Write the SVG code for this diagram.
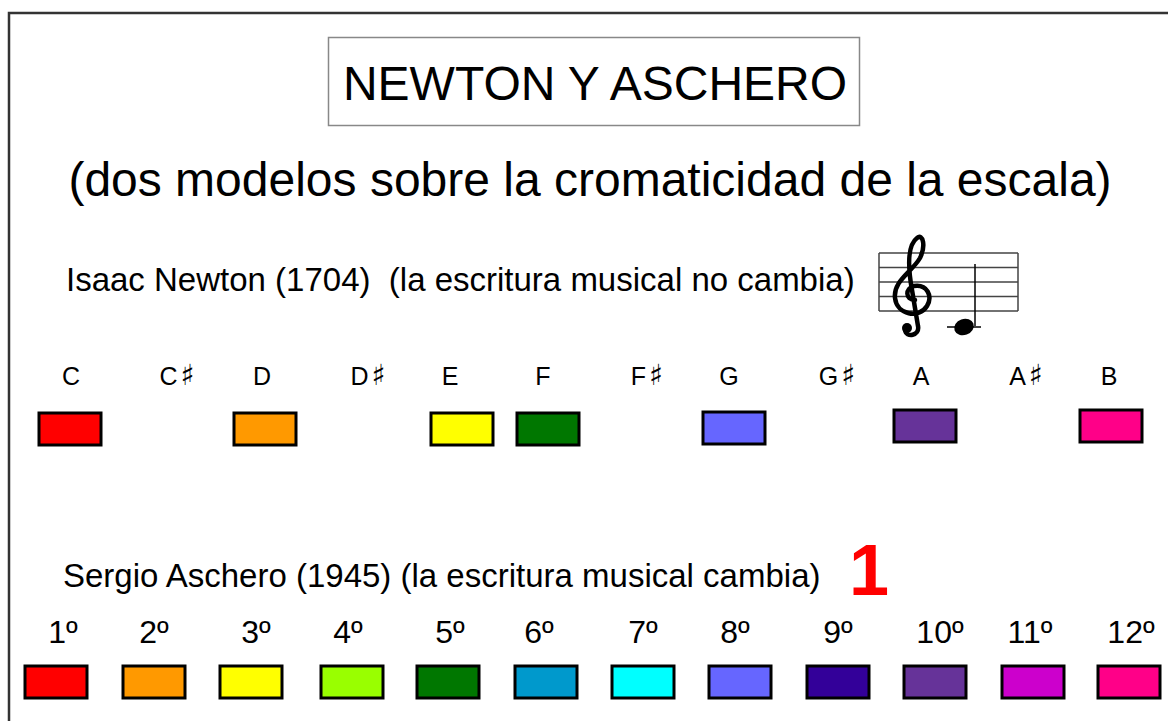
<svg xmlns="http://www.w3.org/2000/svg" width="1168" height="721" viewBox="0 0 1168 721">
<style>
text{font-family:"Liberation Sans",Arial,"DejaVu Sans",sans-serif;fill:#000}
.t{font-size:48px;text-anchor:middle}
.h{font-size:33px}
.n{font-size:25px;text-anchor:middle}
.s{font-family:"DejaVu Sans",sans-serif;font-size:29px}
.o{font-size:32px;text-anchor:middle}
.sw{stroke:#000;stroke-width:3}
.staff{stroke:#444;stroke-width:1.5;fill:none}
</style>
<rect width="1168" height="721" fill="#fff"/>
<path d="M9 740 V13 H1180" fill="none" stroke="#333" stroke-width="2.5"/>
<g id="title">
<rect x="328.5" y="37.5" width="531" height="88" fill="none" stroke="#888" stroke-width="1.5"/>
<text class="t" x="595" y="100">NEWTON Y ASCHERO</text>
</g>
<g id="subtitle"><text class="t" x="590" y="196">(dos modelos sobre la cromaticidad de la escala)</text></g>
<g id="newton-heading"><text class="h" x="66" y="291" xml:space="preserve">Isaac Newton (1704)  (la escritura musical no cambia)</text></g>
<g id="staff">
<path class="staff" d="M879 253 H1018 M879 267.5 H1018 M879 282 H1018 M879 296.5 H1018 M879 311 H1018 M879 253 V311 M1018 253 V311"/>
<path d="M915 300 C905 300 905 288 914 286 C927 284 933 296 927 306 C919 319 897 315 895 298 C893 281 912 272 920 258 C926 246 923 233 917 238 C909 244 907 262 912 290 L918 326 C920 336 906 338 905 330" fill="none" stroke="#000" stroke-width="4.5" stroke-linecap="round"/>
<circle cx="907" cy="328" r="5" fill="#000"/>
<path d="M947 327 H981" stroke="#000" stroke-width="1.5"/>
<path d="M975 264 V326" stroke="#000" stroke-width="1.5"/>
<ellipse cx="964" cy="327" rx="10" ry="8" transform="rotate(-20 964 327)" fill="#000"/>
</g>
<g id="newton-notes">
<text class="n" x="71" y="385">C</text>
<text class="n" x="177" y="385">C<tspan class="s" dx="3">♯</tspan></text>
<text class="n" x="262" y="385">D</text>
<text class="n" x="368" y="385">D<tspan class="s" dx="3">♯</tspan></text>
<text class="n" x="450" y="385">E</text>
<text class="n" x="543" y="385">F</text>
<text class="n" x="647" y="385">F<tspan class="s" dx="3">♯</tspan></text>
<text class="n" x="729" y="385">G</text>
<text class="n" x="837" y="385">G<tspan class="s" dx="3">♯</tspan></text>
<text class="n" x="921" y="385">A</text>
<text class="n" x="1026" y="385">A<tspan class="s" dx="3">♯</tspan></text>
<text class="n" x="1109" y="385">B</text>
</g>
<g id="newton-colors">
<rect class="sw" x="39" y="413" width="62" height="32" fill="#FF0000"/>
<rect class="sw" x="234" y="413" width="62" height="32" fill="#FF9900"/>
<rect class="sw" x="431" y="413" width="62" height="32" fill="#FFFF00"/>
<rect class="sw" x="517" y="413" width="62" height="32" fill="#007700"/>
<rect class="sw" x="703" y="412" width="62" height="32" fill="#6666FF"/>
<rect class="sw" x="894" y="410" width="62" height="32" fill="#663399"/>
<rect class="sw" x="1080" y="410" width="62" height="32" fill="#FF0088"/>
</g>
<g id="aschero-heading">
<text class="h" x="63" y="587">Sergio Aschero (1945) (la escritura musical cambia)</text>
<text x="849" y="595" font-size="72" font-weight="bold" style="fill:#FF0000">1</text>
</g>
<g id="aschero-degrees">
<text class="o" x="63" y="643">1º</text>
<text class="o" x="154" y="643">2º</text>
<text class="o" x="256" y="643">3º</text>
<text class="o" x="348" y="643">4º</text>
<text class="o" x="450" y="643">5º</text>
<text class="o" x="539" y="643">6º</text>
<text class="o" x="643" y="643">7º</text>
<text class="o" x="735" y="643">8º</text>
<text class="o" x="838" y="643">9º</text>
<text class="o" x="940" y="643">10º</text>
<text class="o" x="1030" y="643">11º</text>
<text class="o" x="1131" y="643">12º</text>
</g>
<g id="aschero-colors">
<rect class="sw" x="25" y="666" width="62" height="32" fill="#FF0000"/>
<rect class="sw" x="123" y="666" width="62" height="32" fill="#FF9900"/>
<rect class="sw" x="220" y="666" width="62" height="32" fill="#FFFF00"/>
<rect class="sw" x="321" y="666" width="62" height="32" fill="#99FF00"/>
<rect class="sw" x="417" y="666" width="62" height="32" fill="#007700"/>
<rect class="sw" x="515" y="666" width="62" height="32" fill="#0099CC"/>
<rect class="sw" x="612" y="666" width="62" height="32" fill="#00FFFF"/>
<rect class="sw" x="709" y="666" width="62" height="32" fill="#6666FF"/>
<rect class="sw" x="807" y="666" width="62" height="32" fill="#330099"/>
<rect class="sw" x="904" y="666" width="62" height="32" fill="#663399"/>
<rect class="sw" x="1002" y="666" width="62" height="32" fill="#CC00CC"/>
<rect class="sw" x="1098" y="666" width="62" height="32" fill="#FF0088"/>
</g>
</svg>
